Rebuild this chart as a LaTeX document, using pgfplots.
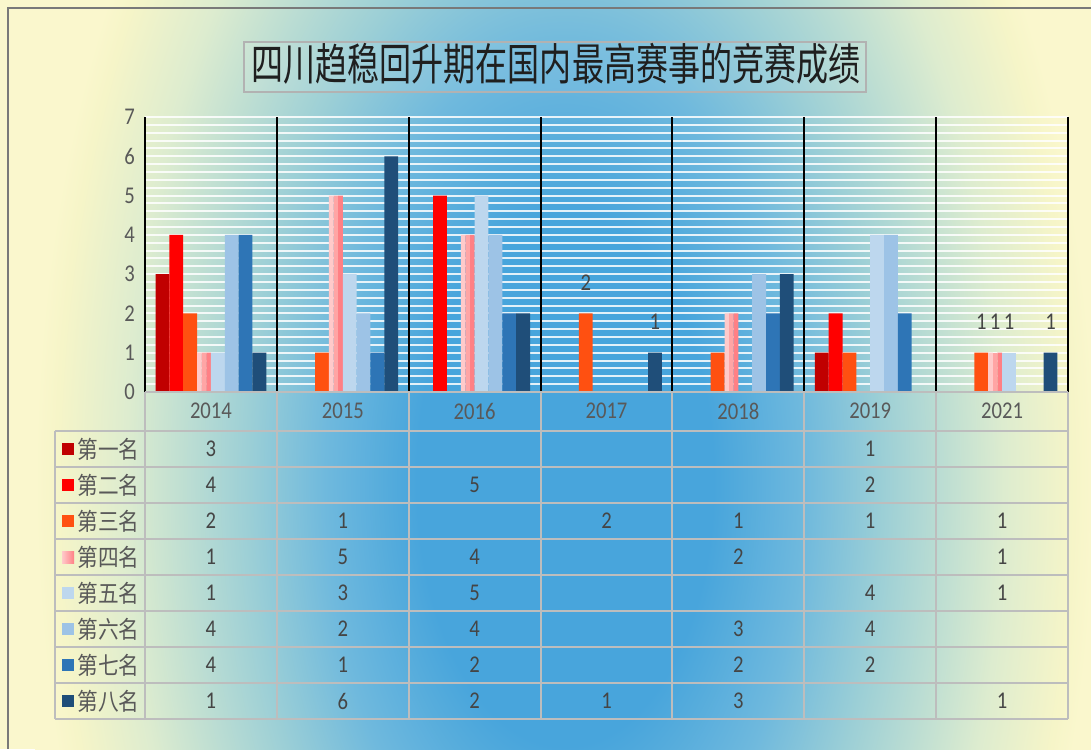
\documentclass[border=0pt]{standalone}
\usepackage{pgfplots}
\pgfplotsset{compat=1.18}
\usepackage{fontspec}
\setmainfont{Carlito}[FakeStretch=0.86]
\newfontfamily\cjk{Noto Sans CJK SC}[FakeStretch=0.86]
\newfontfamily\cjkt{Noto Sans CJK SC}
\newcommand\lblfont{\fontsize{12pt}{14pt}\selectfont}

\definecolor{bgA}{HTML}{48A5DC}
\definecolor{bgB}{HTML}{6FB9DD}
\definecolor{bgC}{HTML}{9CCFD6}
\definecolor{bgD}{HTML}{DDECCF}
\definecolor{bgE}{HTML}{F6F5C8}
\definecolor{bgF}{HTML}{FAF7CD}
\definecolor{tickgray}{HTML}{595959}
\definecolor{numgray}{HTML}{454545}
\definecolor{tblline}{HTML}{BDBDBD}
\definecolor{cA}{HTML}{C00000}
\definecolor{cB}{HTML}{FF0000}
\definecolor{cC}{HTML}{FF5011}
\definecolor{cD1}{HTML}{FFCACA}
\definecolor{cD2}{HTML}{FFA5A5}
\definecolor{cD3}{HTML}{FF8085}
\definecolor{cE}{HTML}{BDD7EE}
\definecolor{cF}{HTML}{9DC3E6}
\definecolor{cG}{HTML}{2E75B6}
\definecolor{cH}{HTML}{1F4E79}

\pgfdeclareradialshading{bgshade}{\pgfpoint{0bp}{0bp}}{color(0bp)=(bgA); color(7bp)=(bgA); color(11.3bp)=(bgB); color(15bp)=(bgC); color(20.7bp)=(bgD); color(24bp)=(bgE); color(25bp)=(bgF); color(50bp)=(bgF)}

\pgfplotsset{
  bb/.style={ybar, bar width=0.105, draw=none},
  lab/.style={nodes near coords, nodes near coords style={anchor=center, yshift=15.5pt, xshift=#1, font=\lblfont, text=numgray}},
}

\begin{document}
\begin{tikzpicture}
\useasboundingbox (0,0) rectangle (545.5pt,-374.5pt);
\begin{scope}[x=0.5pt,y=-0.5pt]
  \clip (0,0) rectangle (1091,749);
  \fill[bgF] (0,0) rectangle (1091,749);
  \shade[shading=bgshade] (35,-470) rectangle (1095,1430);
  \draw[color=gray!95!black, line width=1pt] (1091,8) -- (8,8) -- (8,749);
  % title
  \draw[color=black!30, line width=1pt, fill=white, fill opacity=0.08] (244,42) rectangle (866,92);
  \node[text=black!88] at (556,63.5) {\scalebox{0.728}[1]{\cjkt\fontsize{22pt}{26pt}\selectfont 四川趋稳回升期在国内最高赛事的竞赛成绩}};
\end{scope}

\begin{axis}[
  at={(72.5pt,-196pt)}, anchor=south west,
  scale only axis, width=461.5pt, height=137.5pt,
  xmin=-0.5, xmax=6.5, ymin=0, ymax=7,
  xtick={0,...,6}, xticklabels={2014,2015,2016,2017,2018,2019,2021},
  ytick={0,...,7}, minor y tick num=4,
  ymajorgrids, yminorgrids,
  major grid style={white, opacity=0.85, line width=1pt},
  minor grid style={white, opacity=0.85, line width=1pt},
  axis line style={draw=none},
  tick style={draw=none},
  /pgf/number format/assume math mode=true,
  x tick label style={anchor=center, yshift=-9.5pt, font=\lblfont, text=tickgray},
  y tick label style={xshift=-1.5pt, font=\lblfont, text=tickgray},
  clip=false,
]
% 第一名
\addplot[bb, bar shift=-0.3675, fill=cA] coordinates {(0,3)(5,1)};
% 第二名
\addplot[bb, bar shift=-0.2625, fill=cB] coordinates {(0,4)(2,5)(5,2)};
% 第三名
\addplot[bb, bar shift=-0.1575, fill=cC] coordinates {(0,2)(1,1)(4,1)(5,1)};
\addplot[bb, bar shift=-0.1575, fill=cC, lab=-10.38pt] coordinates {(3,2)(6,1)};
% 第四名 (gradient slices)
\addplot[ybar, bar width=0.035, draw=none, bar shift=-0.0875, fill=cD1] coordinates {(0,1)(1,5)(2,4)(4,2)(6,1)};
\addplot[ybar, bar width=0.035, draw=none, bar shift=-0.0525, fill=cD2] coordinates {(0,1)(1,5)(2,4)(4,2)};
\addplot[ybar, bar width=0.035, draw=none, bar shift=-0.0525, fill=cD2, lab=-3.46pt] coordinates {(6,1)};
\addplot[ybar, bar width=0.035, draw=none, bar shift=-0.0175, fill=cD3] coordinates {(0,1)(1,5)(2,4)(4,2)(6,1)};
% 第五名
\addplot[bb, bar shift=0.0525, fill=cE] coordinates {(0,1)(1,3)(2,5)(5,4)};
\addplot[bb, bar shift=0.0525, fill=cE, lab=3.46pt] coordinates {(6,1)};
% 第六名
\addplot[bb, bar shift=0.1575, fill=cF] coordinates {(0,4)(1,2)(2,4)(4,3)(5,4)};
% 第七名
\addplot[bb, bar shift=0.2625, fill=cG] coordinates {(0,4)(1,1)(2,2)(4,2)(5,2)};
% 第八名
\addplot[bb, bar shift=0.3675, fill=cH] coordinates {(0,1)(1,6)(2,2)(4,3)};
\addplot[bb, bar shift=0.3675, fill=cH, lab=24.23pt] coordinates {(3,1)(6,1)};
% group separators
\foreach \b in {-0.5,0.5,1.5,2.5,3.5,4.5,5.5,6.5} {
  \edef\tmp{\noexpand\draw[black, line width=1pt] (axis cs:\b,0) -- (axis cs:\b,7);}\tmp
}
\end{axis}

\begin{scope}[x=0.5pt,y=-0.5pt]
  \draw[tblline, line width=1pt] (145,392) -- (1068,392);
  \foreach \k in {0,...,8} \draw[tblline, line width=1pt] (55,431+36*\k) -- (1068,431+36*\k);
  \foreach \i in {0,...,7} \draw[tblline, line width=1pt] (145+131.857*\i,392) -- (145+131.857*\i,719);
  \draw[tblline, line width=1pt] (55,431) -- (55,719);
  % legend keys and labels
  \foreach \r/\c/\t in {0/cA/第一名,1/cB/第二名,2/cC/第三名,4/cE/第五名,5/cF/第六名,6/cG/第七名,7/cH/第八名} {
    \fill[\c] (62,443+36*\r) rectangle (74,455+36*\r);
    \node[anchor=west, inner sep=0pt, text=tickgray] at (77,449+36*\r) {\cjk\lblfont \t};
  }
  \shade[left color=cD1, right color=cD3] (62,551) rectangle (74,563);
  \node[anchor=west, inner sep=0pt, text=tickgray] at (77,557) {\cjk\lblfont 第四名};
  % values
  \foreach \r/\c/\v in {0/0/3,0/5/1,
      1/0/4,1/2/5,1/5/2,
      2/0/2,2/1/1,2/3/2,2/4/1,2/5/1,2/6/1,
      3/0/1,3/1/5,3/2/4,3/4/2,3/6/1,
      4/0/1,4/1/3,4/2/5,4/5/4,4/6/1,
      5/0/4,5/1/2,5/2/4,5/4/3,5/5/4,
      6/0/4,6/1/1,6/2/2,6/4/2,6/5/2,
      7/0/1,7/1/6,7/2/2,7/3/1,7/4/3,7/6/1} {
    \node[text=numgray, inner sep=0pt] at (145+131.857*\c+65.93,449+36*\r) {\lblfont \v};
  }
\end{scope}
\end{tikzpicture}
\end{document}
